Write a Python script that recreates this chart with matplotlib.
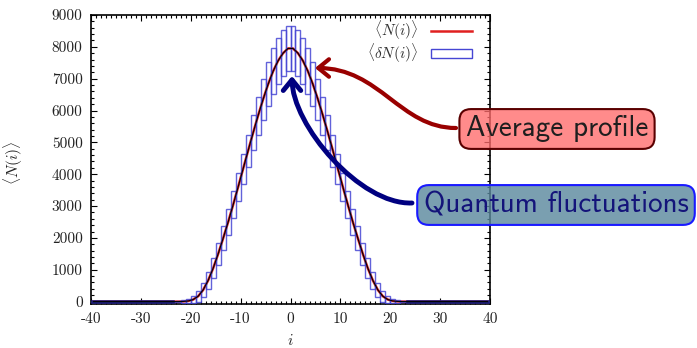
import numpy as np
import matplotlib
matplotlib.use("Agg")
import matplotlib.pyplot as plt
from matplotlib.patches import FancyArrowPatch, Rectangle
from matplotlib.lines import Line2D
from matplotlib.path import Path
from matplotlib.ticker import MultipleLocator, FixedLocator, FixedFormatter

plt.rcParams['mathtext.fontset'] = 'cm'
plt.rcParams['axes.unicode_minus'] = False

# lattice sites (box centres)
sites = np.arange(-39.5, 40.0, 1.0)

# <N(i)>, sites -22.5 .. 22.5
mean_N = [0]*17 + [0, 5, 20, 65, 170, 370, 670, 1050, 1500, 1990, 2500, 3040,
                   3600, 4170, 4740, 5300, 5840, 6350, 6820, 7230, 7560, 7800, 7950,
                   7950, 7800, 7560, 7230, 6820, 6350, 5840, 5300, 4740, 4170, 3600,
                   3040, 2500, 1990, 1500, 1050, 670, 370, 170, 65, 20, 5, 0] + [0]*17

# half height of the fluctuation boxes <dN(i)>
delta_N = [0]*17 + [10, 35, 70, 120, 170, 220, 270, 310, 340, 370, 400, 420,
                    440, 470, 500, 550, 600, 650, 690, 720, 730, 720, 700,
                    700, 720, 730, 720, 690, 650, 600, 550, 500, 470, 440,
                    420, 400, 370, 340, 310, 270, 220, 170, 120, 70, 35, 10] + [0]*17

xticks = [-40, -30, -20, -10, 0, 10, 20, 30, 40]
xtick_labels = ['-40', '-30', '-20', '-10', '0', '10', '20', '30', '40']
yticks = [0, 1000, 2000, 3000, 4000, 5000, 6000, 7000, 8000, 9000]

W, H = 697, 348
fig = plt.figure(figsize=(W/100, H/100), dpi=100)
ax = fig.add_axes([91/W, 1 - 304.3/H, 399/W, 289.3/H])

mean_N = np.array(mean_N, dtype=float)
delta_N = np.array(delta_N, dtype=float)

box_color = '#4646d4'
ax.plot(sites, mean_N, color='#e02020', lw=1.8, zorder=2)
ax.bar(sites, 2*delta_N, bottom=mean_N - delta_N, width=1.0, fill=False,
       edgecolor=box_color, linewidth=1.0, alpha=0.85, zorder=3)
# zero-height boxes in the tails stack up into a dark baseline
tail = np.where(delta_N == 0, mean_N, np.nan)
ax.plot(sites, tail, color='#1c1c78', lw=2.6, solid_capstyle='projecting', zorder=3)
ax.plot(sites, mean_N, color='black', lw=0.8, zorder=4)

ax.set_xlim(-40, 40)
ax.set_ylim(-85, 9000)

ax.xaxis.set_major_locator(FixedLocator(xticks))
ax.xaxis.set_major_formatter(FixedFormatter(xtick_labels))
ax.xaxis.set_minor_locator(MultipleLocator(1))
ax.yaxis.set_major_locator(FixedLocator(yticks))
ax.yaxis.set_major_formatter(FixedFormatter([str(v) for v in yticks]))
ax.yaxis.set_minor_locator(MultipleLocator(200))
ax.tick_params(which='both', direction='in', top=True, right=True, width=0.8)
ax.tick_params(which='major', length=4)
ax.tick_params(which='minor', length=2)
ax.tick_params(axis='x', pad=6)
ax.tick_params(axis='y', pad=6)
for lab in ax.get_xticklabels() + ax.get_yticklabels():
    lab.set_family('cmr10')
    lab.set_fontsize(11)
    lab.set_color('#222222')
for sp in ax.spines.values():
    sp.set_linewidth(1.2)

ax.set_ylabel(r'$\langle N(i)\rangle$', fontsize=11, color='#222222')
ax.yaxis.set_label_coords(-0.165, 0.49)
ax.set_xlabel(r'$i$', fontsize=11, color='#222222')
ax.xaxis.set_label_coords(0.5, -0.10)

handles = [Line2D([], [], color='#e02020', lw=1.8),
           Rectangle((0, 0), 1, 1, fill=False, edgecolor=box_color, lw=1.0)]
ax.legend(handles, [r'$\langle N(i)\rangle$', r'$\langle \delta N(i)\rangle$'],
          loc='upper right', frameon=False, markerfirst=False, fontsize=11,
          handlelength=2.7, handletextpad=0.8, labelspacing=-0.05,
          handleheight=0.6, borderaxespad=0.0, borderpad=0.0,
          bbox_to_anchor=(0.955, 0.985), labelcolor='#333333')


def px(x, y):
    return (x / W, 1 - y / H)


codes = [Path.MOVETO, Path.CURVE4, Path.CURVE4, Path.CURVE4]
red_path = Path([px(456, 128), px(400, 128), px(380, 68), px(315, 68)], codes)
blue_path = Path([px(412, 203), px(360, 205), px(292, 125), px(292, 76)], codes)

fig.add_artist(FancyArrowPatch(path=red_path, arrowstyle='->,head_length=0.55,head_width=0.45',
                               mutation_scale=14, lw=3.0, color='#990000',
                               transform=fig.transFigure))
fig.add_artist(FancyArrowPatch(path=blue_path, arrowstyle='->,head_length=0.55,head_width=0.45',
                               mutation_scale=14, lw=3.5, color='#000080',
                               transform=fig.transFigure))

fig.text(557/W, 1 - 129/H, 'Average profile', family='cmss10', fontsize=21,
         color='#1e1e1e', ha='center', va='center',
         bbox=dict(boxstyle='round,pad=0.22,rounding_size=0.4',
                   fc=(1.0, 0.42, 0.42, 0.78), ec='#5a0000', lw=1.5))
fig.text(556/W, 1 - 205/H, 'Quantum fluctuations', family='cmss10', fontsize=21,
         color='#14147a', ha='center', va='center',
         bbox=dict(boxstyle='round,pad=0.22,rounding_size=0.4',
                   fc=(0.35, 0.53, 0.61, 0.8), ec='#1a1aff', lw=1.5))

fig.savefig('out.png', dpi=100)
